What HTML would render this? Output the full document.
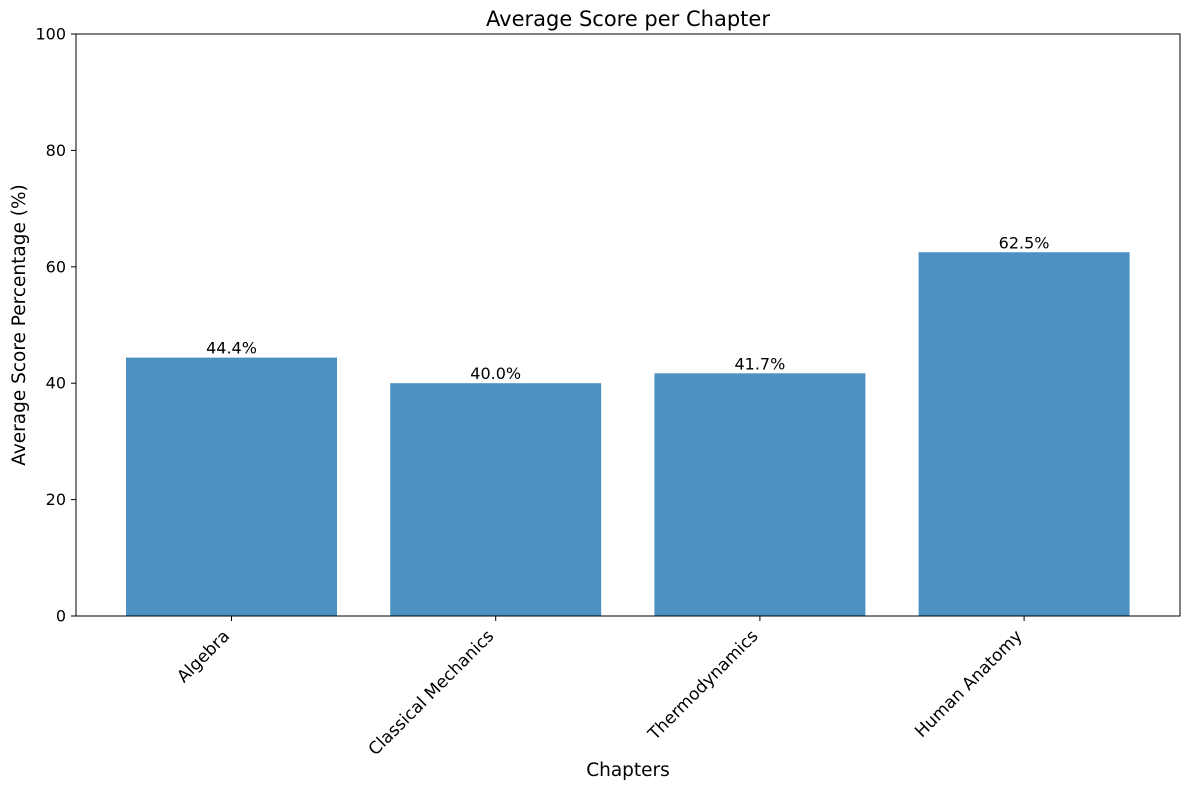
<!DOCTYPE html>
<html><head><meta charset="utf-8"><style>
body{margin:0;background:#fff;font-family:"Liberation Sans","DejaVu Sans",sans-serif;}
svg text{font-family:"DejaVu Sans","Liberation Sans",sans-serif;}
</style></head><body>
<svg id="chart" width="1189" height="790" xmlns="http://www.w3.org/2000/svg">
<rect width="1189" height="790" fill="#fff"/>
<text x="628" y="26" font-size="21" text-anchor="middle">Average Score per Chapter</text>
<text transform="translate(25,325) rotate(-90)" font-size="18.5" text-anchor="middle">Average Score Percentage (%)</text>
<text x="628" y="776" font-size="18.5" text-anchor="middle">Chapters</text>
<g id="plot"></g>
<rect x="76" y="34" width="1104" height="582" fill="none" stroke="#000" stroke-width="1"/>
</svg>
<script>
const categories = ["Algebra","Classical Mechanics","Thermodynamics","Human Anatomy"];
const scores = [44.4, 40.0, 41.7, 62.5];
const yTicks = [0,20,40,60,80,100];
const valueLabels = ["44.4%","40.0%","41.7%","62.5%"];

const NS="http://www.w3.org/2000/svg";
const g=document.getElementById('plot');
const yScale=v=>616-v*5.82;
const xScale=i=>231.5+264.2*i;
const bw=211;
function mk(tag,attrs){const e=document.createElementNS(NS,tag);for(const k in attrs)e.setAttribute(k,attrs[k]);g.appendChild(e);return e;}
yTicks.forEach(t=>{
  const y=yScale(t);
  const l=mk('line',{x1:71,x2:76,y1:y,y2:y,stroke:'#000'});
  
  
  const tx=mk('text',{x:66,y:y+5.5,'font-size':16,'text-anchor':'end'});
  tx.textContent=t;
  
  
});
categories.forEach((c,i)=>{
  const cx=xScale(i);
  const r=mk('rect',{x:cx-bw/2,y:yScale(scores[i]),width:bw,height:616-yScale(scores[i]),fill:'#4b92c3'});
  
  
  const v=mk('text',{x:cx,y:yScale(scores[i])-4,'font-size':16,'text-anchor':'middle'});
  v.textContent=valueLabels[i];
  
  
  const tk=mk('line',{x1:cx,x2:cx,y1:616,y2:621,stroke:'#000'});
  
  
  const lb=mk('text',{transform:`translate(${cx-1},${637}) rotate(-45)`,'font-size':17,'text-anchor':'end'});
  lb.textContent=c;
  
  
});
</script>
</body></html>
